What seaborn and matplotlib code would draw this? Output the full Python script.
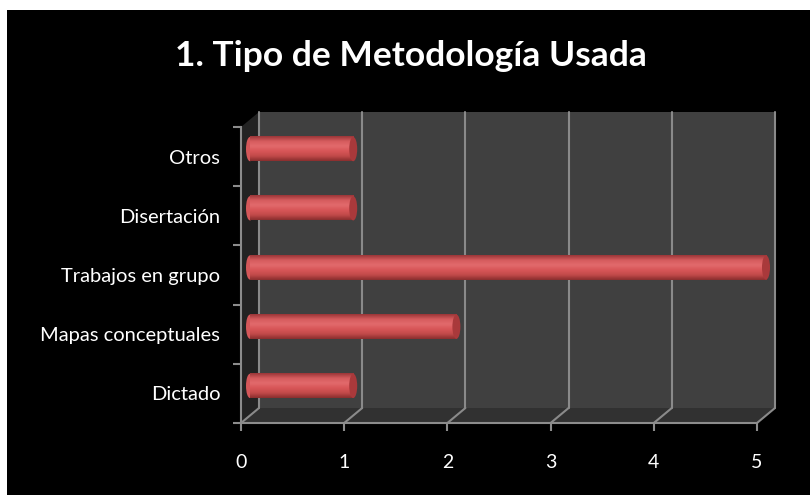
import matplotlib
matplotlib.use("Agg")
import matplotlib.pyplot as plt
import matplotlib.transforms as mtransforms
from matplotlib.patches import Rectangle, Polygon, Ellipse
from matplotlib.colors import LinearSegmentedColormap
import numpy as np
import pandas as pd
import seaborn as sns

# ---- data ----
title = "1. Tipo de Metodología Usada"
categories = ["Otros", "Disertación", "Trabajos en grupo", "Mapas conceptuales", "Dictado"]
values = [1, 1, 5, 2, 1]
x_ticks = [0, 1, 2, 3, 4, 5]

sns.set_theme(style="dark")
plt.rcParams['font.family'] = ['Lato', 'DejaVu Sans']

W, H = 810, 495
fig = plt.figure(figsize=(W / 100, H / 100), dpi=100, facecolor='black')
AX_L, AX_B, AX_W, AX_H = 241, 72, 516, 296
ax = fig.add_axes([AX_L / W, AX_B / H, AX_W / W, AX_H / H])
ax.set_facecolor('none')

df = pd.DataFrame({"categoria": categories, "valor": values})
sns.barplot(data=df, x="valor", y="categoria", order=categories, orient="h",
            width=0.41, color="#d65456", ax=ax, zorder=3)

xmin, xmax = min(x_ticks), max(x_ticks)
ax.set_xlim(xmin, xmax)
ax.set_ylim(len(categories) - 0.5, -0.5)

# 3D depth offsets (pixels)
DX, DY = 18, 15
dxa, dya = DX / AX_W, DY / AX_H


def px_offset(dx, dy):
    return mtransforms.ScaledTranslation(dx / fig.dpi, dy / fig.dpi, fig.dpi_scale_trans)


# cylinder-styled bars (built from the seaborn bar patches)
cmap = LinearSegmentedColormap.from_list(
    "cyl", ["#9a3537", "#d65c5e", "#e26a6c", "#d85658", "#c24a4a", "#8a2e2e"])
grad = np.linspace(0, 1, 64).reshape(-1, 1)
bar_tr = ax.transData + px_offset(DX / 2, DY / 2)
cap_w = 8 / (AX_W / (xmax - xmin))
bar_patches = [p for p in ax.patches if isinstance(p, Rectangle)]
for p in bar_patches:
    x0, y0, w, h = p.get_x(), p.get_y(), p.get_width(), p.get_height()
    p.set_visible(False)
    cy = y0 + h / 2
    e1 = Ellipse((x0, cy), cap_w, h, transform=bar_tr, fc="#d45759", ec='none', zorder=3)
    e1.set_clip_on(False)
    ax.add_patch(e1)
    im = ax.imshow(grad, extent=[x0, x0 + w, y0 + h, y0], aspect='auto', cmap=cmap,
                   transform=bar_tr, zorder=4, interpolation='bicubic')
    im.set_clip_on(False)
    e2 = Ellipse((x0 + w, cy), cap_w, h, transform=bar_tr, fc="#a9393b", ec='none', zorder=5)
    e2.set_clip_on(False)
    ax.add_patch(e2)

# 3D walls and gridlines
wall_c, floor_c, side_c, grid_c = "#404040", "#313131", "#232323", "#8a8a8a"
ax.add_patch(Rectangle((dxa, dya), 1, 1, transform=ax.transAxes, fc=wall_c, ec='none',
                       zorder=0, clip_on=False))
ax.add_patch(Polygon([(0, 0), (dxa, dya), (dxa, 1 + dya), (0, 1)], closed=True,
                     transform=ax.transAxes, fc=side_c, ec='none', zorder=0, clip_on=False))
ax.add_patch(Polygon([(0, 0), (1, 0), (1 + dxa, dya), (dxa, dya)], closed=True,
                     transform=ax.transAxes, fc=floor_c, ec='none', zorder=0, clip_on=False))
for t in x_ticks:
    xf = (t - xmin) / (xmax - xmin)
    ax.plot([xf + dxa, xf + dxa], [dya, 1 + dya], transform=ax.transAxes, color=grid_c,
            lw=1.5, zorder=1, clip_on=False)
    ax.plot([xf, xf + dxa], [0, dya], transform=ax.transAxes, color=grid_c,
            lw=1.5, zorder=1, clip_on=False)

ax.set_xlim(xmin, xmax)
ax.set_ylim(len(categories) - 0.5, -0.5)
ax.set_aspect('auto')
ax.grid(False)

# axes styling
axis_c = "#8c8c8c"
for s in ['top', 'right']:
    ax.spines[s].set_visible(False)
for s in ['left', 'bottom']:
    ax.spines[s].set_color(axis_c)
    ax.spines[s].set_linewidth(1.5)
    ax.spines[s].set_zorder(2)

ax.set_xticks(x_ticks)
ax.set_xticklabels([str(t) for t in x_ticks])
ax.tick_params(axis='x', which='major', length=6, width=1.5, color=axis_c,
               labelcolor='white', labelsize=14, pad=16, bottom=True)
ax.set_yticks(range(len(categories)))
ax.set_yticklabels(categories)
ax.set_yticks(np.arange(-0.5, len(categories), 1), minor=True)
ax.tick_params(axis='y', which='major', length=0, labelcolor='white', labelsize=14.5, pad=15)
ax.tick_params(axis='y', which='minor', length=6, width=1.5, color=axis_c, left=True)
ax.set_xlabel('')
ax.set_ylabel('')

fig.text(0.507, 1 - 56 / H, title, ha='center', va='center', color='white',
         fontsize=25.5, fontweight='bold')

# white border strips at top and left of the picture
fig.add_artist(Rectangle((0, 1 - 10 / H), 1, 10 / H, transform=fig.transFigure,
                         fc='white', ec='none'))
fig.add_artist(Rectangle((0, 0), 7 / W, 1, transform=fig.transFigure, fc='white', ec='none'))

fig.savefig("out.png", dpi=100, facecolor='black')
